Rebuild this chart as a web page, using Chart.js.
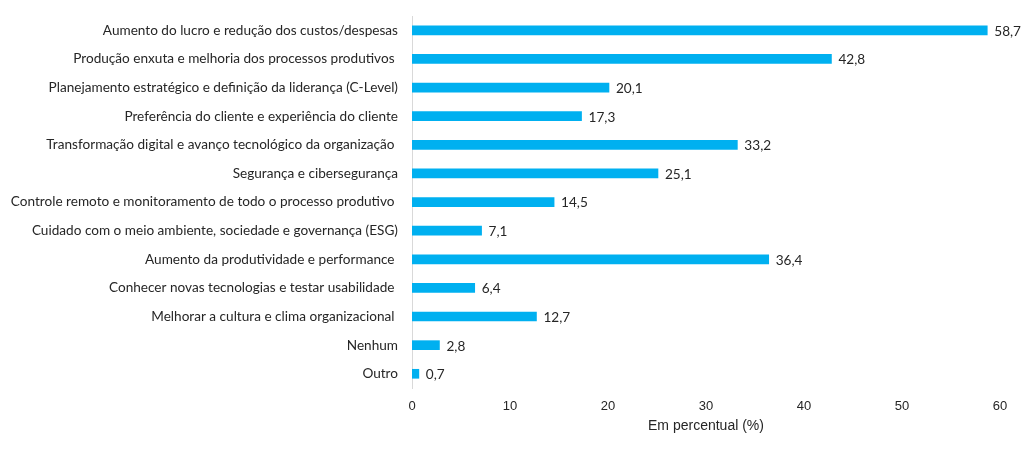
<!DOCTYPE html>
<html>
<head>
<meta charset="utf-8">
<script src="https://cdn.jsdelivr.net/npm/chart.js@4"></script>
<style>
html,body{margin:0;padding:0;background:#fff;}
#wrap{width:1024px;height:451px;}
</style>
</head>
<body>
<div id="wrap"><canvas id="c"></canvas></div>
<script>
const categories = [
  "Aumento do lucro e redução dos custos/despesas",
  "Produção enxuta e melhoria dos processos produtivos ",
  "Planejamento estratégico e definição da liderança (C-Level)",
  "Preferência do cliente e experiência do cliente",
  "Transformação digital e avanço tecnológico da organização ",
  "Segurança e cibersegurança",
  "Controle remoto e monitoramento de todo o processo produtivo ",
  "Cuidado com o meio ambiente, sociedade e governança (ESG)",
  "Aumento da produtividade e performance ",
  "Conhecer novas tecnologias e testar usabilidade ",
  "Melhorar a cultura e clima organizacional ",
  "Nenhum",
  "Outro"
];
const values = [58.7, 42.8, 20.1, 17.3, 33.2, 25.1, 14.5, 7.1, 36.4, 6.4, 12.7, 2.8, 0.7];
const xTicks = [0, 10, 20, 30, 40, 50, 60];
const axisTitle = "Em percentual (%)";

const labelFont = '"Lato", "Open Sans", sans-serif';

const valueLabels = {
  id: 'valueLabels',
  afterDatasetsDraw(chart) {
    const ctx = chart.ctx;
    const meta = chart.getDatasetMeta(0);
    ctx.save();
    ctx.font = '13.6px ' + labelFont;
    ctx.fillStyle = '#262626';
    ctx.textAlign = 'left';
    ctx.textBaseline = 'middle';
    meta.data.forEach((bar, i) => {
      const txt = values[i].toFixed(1).replace('.', ',');
      ctx.fillText(txt, bar.x + 7, bar.y + 1);
    });
    ctx.restore();
  }
};

new Chart(document.getElementById('c'), {
  type: 'bar',
  data: {
    labels: categories,
    datasets: [{
      data: values,
      backgroundColor: '#00B0F0',
      borderWidth: 0,
      barThickness: 9
    }]
  },
  options: {
    indexAxis: 'y',
    responsive: true,
    maintainAspectRatio: false,
    animation: false,
    layout: { padding: { top: 16, right: 24, bottom: 16, left: 0 } },
    plugins: {
      legend: { display: false },
      tooltip: { enabled: false }
    },
    scales: {
      x: {
        min: 0, max: 60,
        afterBuildTicks(axis) { axis.ticks = xTicks.map(v => ({ value: v })); },
        grid: { display: false, drawTicks: false, tickLength: 0 },
        border: { display: false },
        ticks: {
          color: '#262626',
          font: { family: '"Liberation Sans", Arial, sans-serif', size: 13 },
          padding: 11,
          maxRotation: 0
        },
        title: {
          display: true,
          text: axisTitle,
          color: '#262626',
          font: { family: '"Liberation Sans", Arial, sans-serif', size: 14 },
          padding: { top: -7.5, bottom: 0 }
        }
      },
      y: {
        afterFit(axis) {
          axis.width = 412;
          axis.paddingTop = 0;
          axis.paddingBottom = 0;
        },
        grid: { display: false, drawTicks: false },
        border: { display: true, color: '#d9d9d9', width: 1 },
        ticks: {
          color: '#262626',
          font: { family: labelFont, size: 13.6 },
          padding: 14,
          autoSkip: false
        }
      }
    }
  },
  plugins: [valueLabels]
});
</script>
</body>
</html>
